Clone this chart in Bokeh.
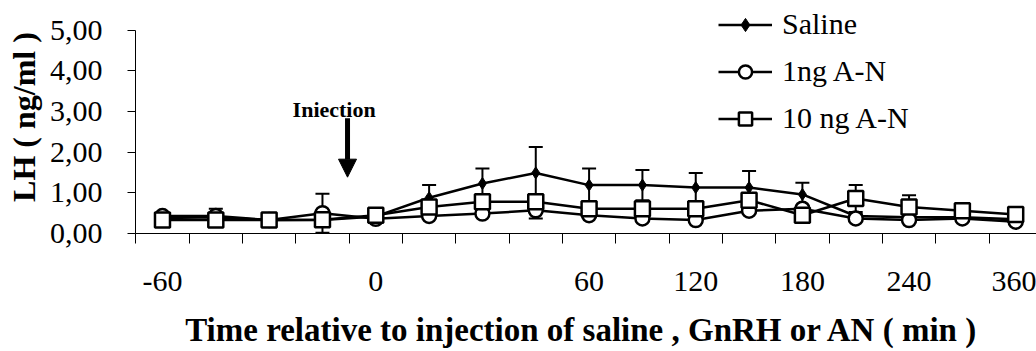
from bokeh.plotting import figure
from bokeh.models import (Range1d, FixedTicker, Legend, LegendItem, Whisker, TeeHead,
                          Arrow, NormalHead, Label, ColumnDataSource)
from bokeh.embed import file_html
from bokeh.resources import INLINE

# ---- data ----
times = [-60, -45, -30, -15, 0, 15, 30, 45, 60, 90, 120, 150, 180, 210, 240, 300, 360]
shown_times = [-60, 0, 60, 120, 180, 240, 360]
saline = [0.38, 0.40, 0.33, 0.33, 0.42, 0.88, 1.23, 1.49, 1.19, 1.19, 1.13, 1.13, 0.96, 0.43, 0.40, 0.40, 0.35]
saline_err = [0.05, 0.05, 0.05, 0.05, 0.05, 0.31, 0.37, 0.64, 0.41, 0.37, 0.36, 0.41, 0.29, 0.05, 0.05, 0.05, 0.05]
an1 = [0.43, 0.43, 0.33, 0.50, 0.36, 0.43, 0.49, 0.57, 0.45, 0.37, 0.33, 0.56, 0.61, 0.37, 0.33, 0.37, 0.29]
an1_err = [0.05, 0.18, 0.05, 0.48, 0.05, 0.05, 0.05, 0.20, 0.05, 0.05, 0.05, 0.05, 0.05, 0.05, 0.05, 0.05, 0.05]
an10 = [0.33, 0.33, 0.33, 0.34, 0.45, 0.65, 0.78, 0.78, 0.61, 0.61, 0.61, 0.82, 0.45, 0.86, 0.65, 0.56, 0.47]
an10_err = [0.05, 0.05, 0.05, 0.05, 0.05, 0.05, 0.05, 0.05, 0.05, 0.05, 0.05, 0.05, 0.05, 0.33, 0.29, 0.05, 0.05]
y_ticks = [0, 1, 2, 3, 4, 5]
y_tick_labels = ["0,00", "1,00", "2,00", "3,00", "4,00", "5,00"]
series_names = ["Saline", "1ng A-N", "10 ng A-N"]

FONT = "Liberation Serif"

idx = list(range(len(times)))

p = figure(width=1036, height=351, output_backend="svg", toolbar_location=None,
           x_range=Range1d(-0.506, 16.39), y_range=Range1d(0, 5.73),
           min_border_left=135, min_border_right=0, min_border_top=0, min_border_bottom=118)
p.outline_line_color = None
p.xgrid.visible = False
p.ygrid.visible = False
p.background_fill_color = "white"

# x axis: labels at category centres, tick marks between categories
xa = p.xaxis[0]
xa.ticker = FixedTicker(ticks=[times.index(t) for t in shown_times],
                        minor_ticks=[i - 0.5 for i in range(len(times) + 1)])
xa.major_label_overrides = {times.index(t): str(t) for t in shown_times}
xa.major_tick_out = 0
xa.major_tick_in = 0
xa.minor_tick_out = 10
xa.minor_tick_in = 0
xa.minor_tick_line_color = "black"
xa.minor_tick_line_width = 1
xa.axis_line_color = "black"
xa.axis_line_width = 1
xa.major_label_text_font = FONT
xa.major_label_text_font_size = "30px"
xa.major_label_text_color = "black"
xa.major_label_standoff = 28
xa.axis_label = "Time relative to injection of saline , GnRH or  AN ( min )"
xa.axis_label_text_font = FONT
xa.axis_label_text_font_size = "33px"
xa.axis_label_text_font_style = "bold"
xa.axis_label_text_color = "black"
xa.axis_label_standoff = 18

ya = p.yaxis[0]
ya.ticker = FixedTicker(ticks=y_ticks, minor_ticks=[])
ya.bounds = (0, 5)
ya.major_label_overrides = {t: l for t, l in zip(y_ticks, y_tick_labels)}
ya.major_tick_out = 8
ya.major_tick_in = 0
ya.major_tick_line_color = "black"
ya.axis_line_color = "black"
ya.axis_line_width = 1
ya.major_label_text_font = FONT
ya.major_label_text_font_size = "30px"
ya.major_label_text_color = "black"
ya.major_label_standoff = 25
ya.axis_label = "LH ( ng/ml )"
ya.axis_label_text_font = FONT
ya.axis_label_text_font_size = "32px"
ya.axis_label_text_font_style = "bold"
ya.axis_label_text_color = "black"
ya.axis_label_standoff = 5

series = [
    (saline, saline_err, dict(marker="diamond", size=12,
                              fill_color="black", line_color="black", line_width=1)),
    (an1, an1_err, dict(marker="circle", size=14, fill_color="white",
                        line_color="black", line_width=2.5)),
    (an10, an10_err, dict(marker="square", size=15, fill_color="white",
                          line_color="black", line_width=2.5)),
]

items = []
for name, (vals, errs, mk) in zip(series_names, series):
    src = ColumnDataSource(dict(x=idx, y=vals,
                                upper=[v + e for v, e in zip(vals, errs)],
                                lower=[v - e for v, e in zip(vals, errs)]))
    w = Whisker(source=src, base="x", upper="upper", lower="lower",
                line_color="black", line_width=2,
                upper_head=TeeHead(size=14, line_width=2, line_color="black"),
                lower_head=TeeHead(size=14, line_width=2, line_color="black"))
    p.add_layout(w)
    ln = p.line("x", "y", source=src, line_color="black", line_width=2.5)
    sc = p.scatter("x", "y", source=src, **mk)
    items.append(LegendItem(label=name, renderers=[ln, sc]))

legend = Legend(items=items, location=(583, 97.8), orientation="vertical",
                glyph_width=54, glyph_height=33, label_height=33, spacing=13,
                label_standoff=10, padding=0, margin=0,
                border_line_color=None, background_fill_alpha=0,
                label_text_font=FONT, label_text_font_size="30px",
                label_text_color="black")
p.add_layout(legend)

# injection annotation
p.add_layout(Arrow(x_start=3.47, y_start=2.835, x_end=3.47, y_end=1.385,
                   line_width=5, line_color="black",
                   end=NormalHead(size=18, fill_color="black", line_color="black", line_width=1)))
p.add_layout(Label(x=2.44, y=3.05, text="Iniection", text_font=FONT,
                   text_font_size="22px", text_font_style="bold", text_color="black",
                   text_baseline="alphabetic"))

open("out.html", "w").write(file_html(p, INLINE))
